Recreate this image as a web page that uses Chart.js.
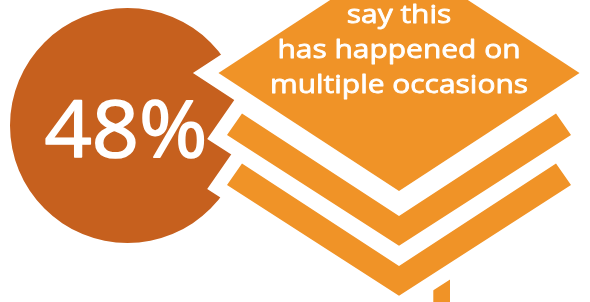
<!DOCTYPE html>
<html>
<head>
<meta charset="utf-8">
<script src="https://cdn.jsdelivr.net/npm/chart.js@4.4.1/dist/chart.umd.min.js"></script>
<style>
  html, body { margin: 0; padding: 0; background: #ffffff; }
  #wrap { width: 590px; height: 302px; position: relative; }
</style>
</head>
<body>
<div id="wrap"><canvas id="c" width="590" height="302"></canvas></div>
<script>
// ---- data ----
const shareLabels = ['Multiple occasions'];
const shareValues = [48];
const captionLines = ['say this', 'has happened on', 'multiple occasions'];

const circleColor = '#C6601E';
const capColor = '#F09327';

function poly(ctx, pts) {
  ctx.beginPath();
  ctx.moveTo(pts[0][0], pts[0][1]);
  for (let i = 1; i < pts.length; i++) ctx.lineTo(pts[i][0], pts[i][1]);
  ctx.closePath();
}

const capPlugin = {
  id: 'capPlugin',
  afterDatasetsDraw(chart) {
    const ctx = chart.ctx;
    const cx = 399;
    const diamond = [[cx, -45], [cx + 180.5, 73], [cx, 191], [cx - 180.5, 73]];
    const chevron = (dy) => [
      [cx - 157, 113.5 + dy], [cx, 216 + dy], [cx + 157, 113.5 + dy],
      [cx + 172, 135 + dy], [cx, 245.7 + dy], [cx - 172, 135 + dy]
    ];
    const shapes = [diamond, chevron(0), chevron(50)];
    const tassel = [[433.3, 240], [450, 240], [450, 310], [433.3, 310]];

    ctx.save();
    ctx.fillStyle = capColor;
    poly(ctx, tassel); ctx.fill();
    ctx.strokeStyle = '#ffffff';
    ctx.lineWidth = 28;
    ctx.lineJoin = 'miter';
    ctx.miterLimit = 10;
    shapes.forEach(s => { poly(ctx, s); ctx.stroke(); });
    ctx.fillStyle = capColor;
    shapes.forEach(s => { poly(ctx, s); ctx.fill(); });

    // caption text
    ctx.fillStyle = '#ffffff';
    ctx.strokeStyle = '#ffffff';
    ctx.lineJoin = 'round';
    ctx.textAlign = 'center';
    ctx.textBaseline = 'alphabetic';
    ctx.font = '400 26px "Open Sans"';
    const baselines = [22.7, 58, 92.5];
    const w = ctx.measureText(captionLines[1]).width;
    const sx = 243 / w;
    captionLines.forEach((t, i) => {
      ctx.save();
      ctx.translate(cx, baselines[i]);
      ctx.scale(sx, 1);
      ctx.lineWidth = 0.8;
      ctx.fillText(t, 0, 0);
      ctx.strokeText(t, 0, 0);
      ctx.restore();
    });

    // percentage text in circle
    const arc = chart.getDatasetMeta(0).data[0];
    const pct = shareValues[0] + '%';
    ctx.font = '400 79px "Open Sans"';
    const pw = ctx.measureText(pct).width;
    ctx.save();
    ctx.translate(arc.x - 1.5, 156.5);
    ctx.scale(163 / pw, 1);
    ctx.lineWidth = 1.6;
    ctx.fillText(pct, 0, 0);
    ctx.strokeText(pct, 0, 0);
    ctx.restore();
    ctx.restore();
  }
};

new Chart(document.getElementById('c'), {
  type: 'pie',
  data: {
    labels: shareLabels,
    datasets: [{
      data: [100],
      backgroundColor: [circleColor],
      borderWidth: 0,
      hoverOffset: 0,
      offset: 0
    }]
  },
  options: {
    responsive: false,
    animation: false,
    events: [],
    layout: { padding: { left: 10, top: 8, right: 345, bottom: 59 } },
    plugins: { legend: { display: false }, tooltip: { enabled: false } }
  },
  plugins: [capPlugin]
});
</script>
</body>
</html>
